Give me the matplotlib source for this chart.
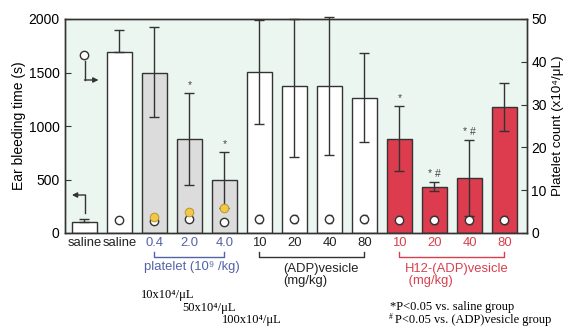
import matplotlib
matplotlib.use("Agg")
import matplotlib.pyplot as plt
import matplotlib.transforms as mtransforms
import numpy as np

plt.rcParams['font.family'] = ['Liberation Sans', 'DejaVu Sans']

# ---------------- data ----------------
categories = ["saline", "saline", "0.4", "2.0", "4.0", "10", "20", "40", "80",
              "10", "20", "40", "80"]
bleed_mean = [100, 1690, 1500, 880, 495, 1505, 1375, 1375, 1262, 880, 430, 514, 1178]
bleed_err_up = [30, 210, 425, 430, 262, 485, 625, 640, 420, 305, 45, 355, 225]
bleed_err_low = [0, 0, 420, 435, 262, 485, 664, 645, 412, 305, 40, 355, 225]
groups = ["white", "white", "grey", "grey", "grey", "white", "white", "white", "white",
          "red", "red", "red", "red"]
platelet_white = [np.nan, 3.0, 2.8, 3.2, 2.5, 3.3, 3.3, 3.3, 3.3, 3.0, 3.0, 3.0, 3.0]
platelet_white_err = [0, 0, 0, 0, 0, 0.9, 0.9, 0.9, 0.9, 1.0, 1.0, 1.0, 1.0]
platelet_yellow = [np.nan, np.nan, 3.7, 4.8, 5.8, np.nan, np.nan, np.nan, np.nan,
                   np.nan, np.nan, np.nan, np.nan]
sig_marks = ["", "", "", "*", "*", "", "", "", "", "*", "* #", "* #", ""]
left_ticks = [0, 500, 1000, 1500, 2000]
right_ticks = [0, 10, 20, 30, 40, 50]

# ---------------- style ----------------
fill_colors = {"white": "#ffffff", "grey": "#dcdcdc", "red": "#dc3c4e"}
tick_colors = {"white": "#222222", "grey": "#5462a8", "red": "#d8404e"}
edge = "#333333"
bg = "#ebf6f1"
W, H = 565, 327


def fx(x):
    return x / W


def fy(y):
    return 1 - y / H


fig = plt.figure(figsize=(W / 100, H / 100), dpi=100)
ax = fig.add_axes([fx(65), fy(233), (527 - 65) / W, (233 - 19) / H])
ax.set_facecolor(bg)
ax2 = ax.twinx()

x = np.arange(len(categories))
cols = [fill_colors[g] for g in groups]
ax.bar(x, bleed_mean, width=0.71, color=cols, edgecolor=edge, linewidth=1.0, zorder=2)
eb = ax.errorbar(x, bleed_mean, yerr=[bleed_err_low, bleed_err_up], fmt='none',
                 ecolor=edge, elinewidth=1.0, capsize=3.5, capthick=1.0, zorder=3)
for art in list(eb.lines[1]) + list(eb.lines[2]):
    art.set_clip_on(False)

ax.set_xlim(-0.557, 12.643)
ax.set_ylim(0, 2000)
ax.set_yticks(left_ticks)
ax.tick_params(axis='y', direction='in', length=4, labelsize=10, pad=4, color=edge)
ax.tick_params(axis='x', length=0, labelsize=9.4, pad=3)
ax.set_xticks(x)
ax.set_xticklabels(categories)
for lab, g in zip(ax.get_xticklabels(), groups):
    lab.set_color(tick_colors[g])
ax.set_ylabel("Ear bleeding time (s)", fontsize=10, labelpad=2)

# significance marks
for xi, m, mu, up in zip(x, sig_marks, bleed_mean, bleed_err_up):
    if m:
        ax.annotate(m, (xi, mu + up), xytext=(0, 2), textcoords='offset points',
                    ha='center', va='bottom', fontsize=7.5, color='#444444')

# platelet counts on right axis
ax2.set_ylim(0, 50)
ax2.set_yticks(right_ticks)
ax2.tick_params(axis='y', direction='in', length=4, labelsize=10, pad=3, color=edge)
ax2.set_ylabel("Platelet count (x10⁴/μL)", fontsize=9.6, labelpad=4)
ax2.errorbar(x, platelet_white, yerr=platelet_white_err, fmt='o', ms=6,
             mfc='white', mec='#333333', mew=1.0, ecolor='#333333', elinewidth=0.8,
             capsize=1.8, zorder=4)
ax2.plot(x, platelet_yellow, 'o', ms=6.2, mfc='#f2c84b', mec='#b8952e', mew=0.7, zorder=5)

for a in (ax, ax2):
    for s in a.spines.values():
        s.set_color(edge)
        s.set_linewidth(1.0)

# legend-like guides inside the plot
ax.plot([0], [1664], 'o', ms=6, mfc='white', mec='#333333', mew=1.0, zorder=5)
ax.plot([0.014, 0.014], [1610, 1430], color=edge, lw=1.0, zorder=5)
ax.annotate('', xy=(0.40, 1430), xytext=(0.0, 1430),
            arrowprops=dict(arrowstyle='-|>,head_length=0.3,head_width=0.15',
                            color=edge, lw=1.0, shrinkA=0, shrinkB=0), zorder=5)
ax.plot([0.014, 0.014], [355, 190], color=edge, lw=1.0, zorder=5)
ax.annotate('', xy=(-0.36, 355), xytext=(0.024, 355),
            arrowprops=dict(arrowstyle='-|>,head_length=0.3,head_width=0.15',
                            color=edge, lw=1.0, shrinkA=0, shrinkB=0), zorder=5)

# group brackets under the axis
trans = mtransforms.blended_transform_factory(ax.transData, ax.transAxes)
brackets = [(2, 4, tick_colors["grey"]), (5, 8, "#333333"), (9, 12, tick_colors["red"])]
for a0, a1, c in brackets:
    ax.plot([a0, a0, a1, a1], [-0.089, -0.112, -0.112, -0.089], color=c, lw=1.0,
            transform=trans, clip_on=False)

fig.text(fx(192), fy(267), "platelet (10⁹ /kg)", color=tick_colors["grey"],
         fontsize=9.4, ha='center', va='center')
fig.text(fx(283), fy(275), "(ADP)vesicle\n(mg/kg)", color="#222222", fontsize=9.4,
         ha='left', va='center', linespacing=0.95)
fig.text(fx(405), fy(275), "H12-(ADP)vesicle\n (mg/kg)", color=tick_colors["red"],
         fontsize=9.4, ha='left', va='center', linespacing=0.95)

serif = ['Liberation Serif', 'DejaVu Serif']
fig.text(fx(141), fy(295), "10x10⁴/μL", family=serif, fontsize=9, ha='left', va='center')
fig.text(fx(182), fy(308), "50x10⁴/μL", family=serif, fontsize=9, ha='left', va='center')
fig.text(fx(222), fy(320), "100x10⁴/μL", family=serif, fontsize=9, ha='left', va='center')
fig.text(fx(390), fy(307), "*P<0.05 vs. saline group", family=serif, fontsize=9,
         ha='left', va='center')
fig.text(fx(389), fy(317), "#", family=serif, fontsize=5.5, ha='left', va='center')
fig.text(fx(395), fy(320), "P<0.05 vs. (ADP)vesicle group", family=serif, fontsize=9,
         ha='left', va='center')

fig.savefig("out.png", dpi=100, facecolor='white')
